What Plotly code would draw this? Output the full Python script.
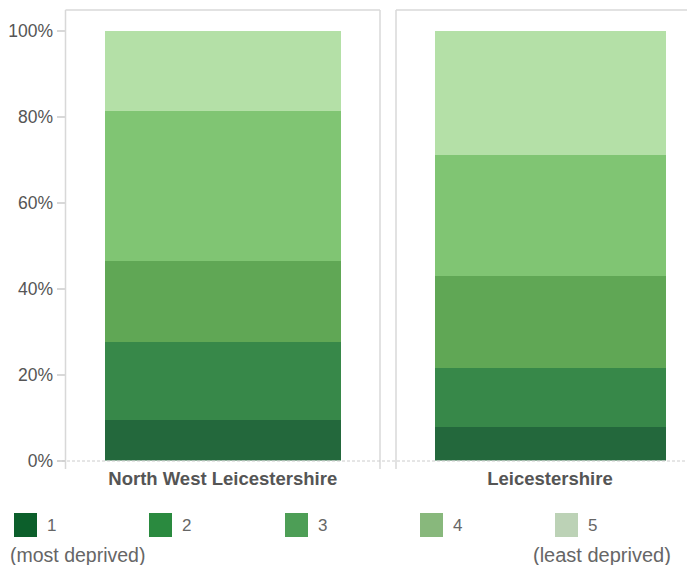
import plotly.graph_objects as go

W, H = 695, 565
OFF = 8  # page body margin
FW, FH = W - OFF, H - OFF

areas = ["North West Leicestershire", "Leicestershire"]
quintiles = ["1", "2", "3", "4", "5"]
nwl_values = [9.5, 18.1, 18.8, 35.0, 18.6]
leics_values = [7.8, 13.8, 21.4, 28.1, 28.9]
bar_colors = ["#23683c", "#378849", "#60a755", "#80c573", "#b4e0a7"]
legend_colors = ["#0c5f2b", "#2a8a3f", "#4d9e56", "#88b87c", "#bcd2b6"]
legend_notes = ["(most deprived)", "(least deprived)"]
y_ticks = [0, 20, 40, 60, 80, 100]

def px(x):
    return (x - OFF) / FW

def py(y):
    return 1 - (y - OFF) / FH

fig = go.Figure()
for i, q in enumerate(quintiles):
    fig.add_trace(go.Bar(x=[areas[0]], y=[nwl_values[i]], marker=dict(color=bar_colors[i], line=dict(width=0)),
                         width=0.75, name=q, showlegend=False, xaxis="x", yaxis="y"))
    fig.add_trace(go.Bar(x=[areas[1]], y=[leics_values[i]], marker=dict(color=bar_colors[i], line=dict(width=0)),
                         width=0.75, name=q, showlegend=False, xaxis="x2", yaxis="y"))

font_family = "Liberation Sans, Arial, sans-serif"
grey = "#d8d8d8"

shapes = []
# panel borders
for (x0, x1, draw_right) in [(65.5, 380, True), (396, 710, False)]:
    shapes.append(dict(type="line", xref="paper", yref="paper", x0=px(x0), x1=px(x0), y0=py(10), y1=py(469),
                       line=dict(color=grey, width=1.5)))
    if draw_right:
        shapes.append(dict(type="line", xref="paper", yref="paper", x0=px(x1), x1=px(x1), y0=py(10), y1=py(469),
                           line=dict(color=grey, width=1.5)))
    shapes.append(dict(type="line", xref="paper", yref="paper", x0=px(x0), x1=min(px(x1), 1.0), y0=py(10), y1=py(10),
                       line=dict(color=grey, width=1.5)))
# dashed baseline
shapes.append(dict(type="line", xref="paper", yref="paper", x0=px(57), x1=1.0, y0=py(461), y1=py(461),
                   line=dict(color="#cccccc", width=1, dash="3px,2px")))

annotations = []
legend_x = [14, 149, 285, 420, 555]
for i, q in enumerate(quintiles):
    x0 = legend_x[i]
    shapes.append(dict(type="rect", xref="paper", yref="paper", x0=px(x0), x1=px(x0 + 23), y0=py(537), y1=py(513),
                       fillcolor=legend_colors[i], line=dict(width=0)))
    annotations.append(dict(text=q, xref="paper", yref="paper", x=px(x0 + 31), y=py(525), xanchor="left",
                            yanchor="middle", showarrow=False, font=dict(family=font_family, size=17, color="#666666")))
annotations.append(dict(text=legend_notes[0], xref="paper", yref="paper", x=px(8), y=py(555), xanchor="left",
                        yanchor="middle", showarrow=False, font=dict(family=font_family, size=19.5, color="#666666")))
annotations.append(dict(text=legend_notes[1], xref="paper", yref="paper", x=px(673), y=py(555), xanchor="right",
                        yanchor="middle", showarrow=False, font=dict(family=font_family, size=20, color="#666666")))

y_bottom, y_top = 460.5, 10
y_range_top = 100 * (y_bottom - y_top) / (y_bottom - 31)

fig.update_layout(
    width=FW, height=FH,
    margin=dict(l=0, r=0, t=0, b=0),
    paper_bgcolor="white", plot_bgcolor="white",
    barmode="stack",
    showlegend=False,
    shapes=shapes,
    annotations=annotations,
    xaxis=dict(domain=[px(65.5), px(380)], range=[-0.5, 0.5], type="category", showgrid=False, zeroline=False,
               showline=False, ticks="", automargin=False, ticklabelstandoff=5,
               tickfont=dict(family=font_family, size=18.5, color="#555555", weight="bold")),
    xaxis2=dict(domain=[px(396), 1.0], range=[-0.5, -0.5 + (W - 396) / 308], type="category", showgrid=False,
                zeroline=False, showline=False, ticks="", automargin=False, anchor="y", ticklabelstandoff=5,
                tickfont=dict(family=font_family, size=18.5, color="#555555", weight="bold")),
    yaxis=dict(domain=[py(y_bottom), py(y_top)], range=[0, y_range_top], tickvals=y_ticks,
               ticktext=[f"{v}%" for v in y_ticks], showgrid=False, zeroline=False, showline=False,
               ticks="outside", ticklen=8, tickcolor=grey, tickwidth=1.5, automargin=False,
               tickfont=dict(family=font_family, size=17.5, color="#555555")),
)

fig.write_html("out.html")
